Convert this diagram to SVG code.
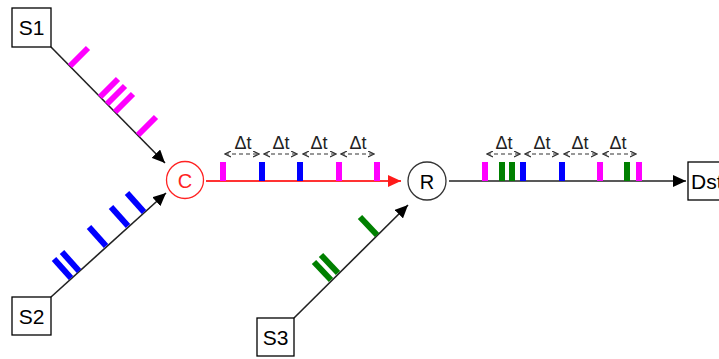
<svg xmlns="http://www.w3.org/2000/svg" width="719" height="359" viewBox="0 0 719 359">
<style>
.box{fill:#fff;stroke:#000;stroke-width:1.3}
.lbl{font-family:"Liberation Sans",Arial,sans-serif;font-size:21px;fill:#000}
.dt{font-family:"Liberation Sans",Arial,sans-serif;font-size:18px;fill:#222}
.ln{stroke:#222;stroke-width:1.6;fill:none}
.dash{stroke:#333;stroke-width:1.2;stroke-dasharray:4 3;fill:none}
.m{stroke:#ff00ff;stroke-width:6}
.b{stroke:#0000ff;stroke-width:6}
.g{stroke:#008000;stroke-width:6}
.pm{fill:#ff00ff}.pb{fill:#0000ff}.pg{fill:#008000}
</style>
<defs>
<marker id="ah" markerWidth="14" markerHeight="12" refX="13" refY="6" orient="auto" markerUnits="userSpaceOnUse"><path d="M0,0 L13,6 L0,12 Z" fill="#000"/></marker>
<marker id="ahr" markerWidth="14" markerHeight="12" refX="13" refY="6" orient="auto" markerUnits="userSpaceOnUse"><path d="M0,0 L13,6 L0,12 Z" fill="#ff1a1a"/></marker>
<marker id="sa" markerWidth="7" markerHeight="7" refX="6" refY="3.5" orient="auto-start-reverse" markerUnits="userSpaceOnUse"><path d="M0,0.5 L6,3.5 L0,6.5" fill="none" stroke="#333" stroke-width="1.2"/></marker>
</defs>

<g id="connectors">
<line class="ln" x1="51" y1="47" x2="165" y2="163" marker-end="url(#ah)"/>
<line class="ln" x1="51" y1="297" x2="166" y2="193" marker-end="url(#ah)"/>
<line x1="206" y1="181" x2="401" y2="181" stroke="#ff3333" stroke-width="2" marker-end="url(#ahr)"/>
<line class="ln" x1="294" y1="318" x2="408" y2="205" marker-end="url(#ah)"/>
<line class="ln" x1="449" y1="181" x2="686" y2="181" marker-end="url(#ah)"/>
</g>

<g id="packets-s1">
<line class="m" x1="70" y1="66" x2="88" y2="48"/>
<line class="m" x1="100" y1="97" x2="118" y2="79"/>
<line class="m" x1="107" y1="104" x2="125" y2="86"/>
<line class="m" x1="115" y1="112" x2="133" y2="94"/>
<line class="m" x1="138" y1="135" x2="156" y2="117"/>
</g>
<g id="packets-s2">
<line class="b" x1="71" y1="278" x2="54" y2="259"/>
<line class="b" x1="79" y1="271" x2="62" y2="252"/>
<line class="b" x1="106" y1="246" x2="89" y2="227"/>
<line class="b" x1="128" y1="226" x2="111" y2="207"/>
<line class="b" x1="144" y1="212" x2="127" y2="193"/>
</g>
<g id="packets-s3">
<line class="g" x1="331" y1="280" x2="314" y2="262"/>
<line class="g" x1="338" y1="273" x2="321" y2="255"/>
<line class="g" x1="377" y1="235" x2="360" y2="217"/>
</g>

<g id="packets-cr">
<rect class="pm" x="220" y="162" width="6" height="19"/>
<rect class="pb" x="259" y="162" width="6" height="19"/>
<rect class="pb" x="297" y="162" width="6" height="19"/>
<rect class="pm" x="336" y="162" width="6" height="19"/>
<rect class="pm" x="374" y="162" width="6" height="19"/>
<line class="dash" x1="225" y1="154" x2="259" y2="154" marker-start="url(#sa)" marker-end="url(#sa)"/>
<line class="dash" x1="264" y1="154" x2="297" y2="154" marker-start="url(#sa)" marker-end="url(#sa)"/>
<line class="dash" x1="303" y1="154" x2="336" y2="154" marker-start="url(#sa)" marker-end="url(#sa)"/>
<line class="dash" x1="341" y1="154" x2="374" y2="154" marker-start="url(#sa)" marker-end="url(#sa)"/>
<text class="dt" x="243" y="149" text-anchor="middle">Δt</text>
<text class="dt" x="281" y="149" text-anchor="middle">Δt</text>
<text class="dt" x="319" y="149" text-anchor="middle">Δt</text>
<text class="dt" x="358" y="149" text-anchor="middle">Δt</text>
</g>

<g id="packets-rd">
<rect class="pm" x="482" y="162" width="6" height="19"/>
<rect class="pg" x="499" y="162" width="6" height="19"/>
<rect class="pg" x="509" y="162" width="6" height="19"/>
<rect class="pb" x="520" y="162" width="6" height="19"/>
<rect class="pb" x="559" y="162" width="6" height="19"/>
<rect class="pm" x="597" y="162" width="6" height="19"/>
<rect class="pg" x="624" y="162" width="6" height="19"/>
<rect class="pm" x="636" y="162" width="6" height="19"/>
<line class="dash" x1="487" y1="154" x2="520" y2="154" marker-start="url(#sa)" marker-end="url(#sa)"/>
<line class="dash" x1="525" y1="154" x2="558" y2="154" marker-start="url(#sa)" marker-end="url(#sa)"/>
<line class="dash" x1="564" y1="154" x2="597" y2="154" marker-start="url(#sa)" marker-end="url(#sa)"/>
<line class="dash" x1="603" y1="154" x2="636" y2="154" marker-start="url(#sa)" marker-end="url(#sa)"/>
<text class="dt" x="504" y="149" text-anchor="middle">Δt</text>
<text class="dt" x="542" y="149" text-anchor="middle">Δt</text>
<text class="dt" x="580" y="149" text-anchor="middle">Δt</text>
<text class="dt" x="618" y="149" text-anchor="middle">Δt</text>
</g>

<g id="S1"><rect class="box" x="12" y="8" width="39" height="39"/><text class="lbl" x="31.5" y="35" text-anchor="middle">S1</text></g>
<g id="S2"><rect class="box" x="12" y="297" width="39" height="38"/><text class="lbl" x="31.5" y="323.5" text-anchor="middle">S2</text></g>
<g id="S3"><rect class="box" x="257" y="318" width="37" height="38"/><text class="lbl" x="275.5" y="344.5" text-anchor="middle">S3</text></g>
<g id="C"><circle cx="185" cy="180" r="18.5" fill="#fff" stroke="#ff2222" stroke-width="1.3"/><text class="lbl" x="185" y="187.5" text-anchor="middle" style="fill:#ff2222;font-size:20px">C</text></g>
<g id="R"><circle cx="427" cy="181" r="19" fill="#fff" stroke="#333" stroke-width="1.3"/><text class="lbl" x="427" y="188.5" text-anchor="middle" style="font-size:20px">R</text></g>
<g id="Dst"><rect class="box" x="688" y="162" width="40" height="38"/><text class="lbl" x="691" y="189">Dst</text></g>
</svg>
